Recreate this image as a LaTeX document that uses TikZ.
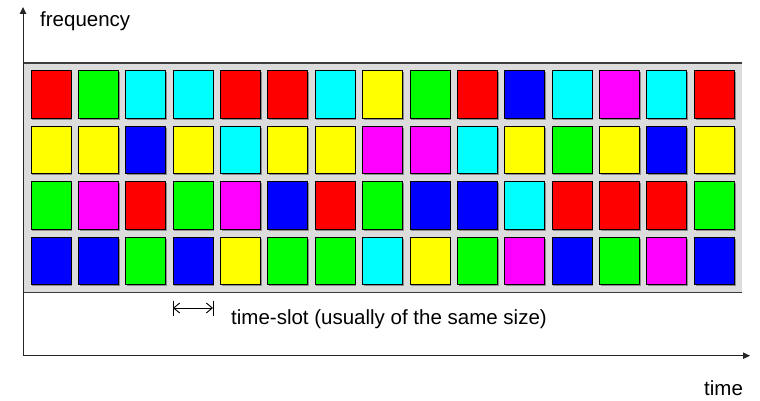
\documentclass[tikz,border=0pt]{standalone}
\usepackage{fontspec}
\setmainfont{Liberation Sans}
\usetikzlibrary{arrows.meta,shadows}
\definecolor{bandgray}{RGB}{220,220,220}
\definecolor{edgegray}{RGB}{60,60,60}
\definecolor{sR}{RGB}{255,0,0}
\definecolor{sG}{RGB}{0,255,0}
\definecolor{sB}{RGB}{0,0,255}
\definecolor{sC}{RGB}{0,255,255}
\definecolor{sM}{RGB}{255,0,255}
\definecolor{sY}{RGB}{255,255,0}
\begin{document}
\begin{tikzpicture}[x=1pt,y=-1pt,
  slot/.style={draw=black, line width=1pt, minimum width=40pt, minimum height=47.5pt, inner sep=0pt,
    general shadow={shadow xshift=1.2pt, shadow yshift=-1.2pt, fill=black!45}},
  lbl/.style={anchor=base west, inner sep=0pt, font=\fontsize{20.5}{24}\selectfont},
  axis/.style={draw=black!85, line width=1pt, -{Triangle[length=7pt,width=6.5pt]}},
  band/.style={draw=edgegray, line width=1.5pt}]
\useasboundingbox (0,0) rectangle (760,401);
% band
\coordinate (bandTL) at (23,63);
\coordinate (bandTR) at (742,63);
\coordinate (bandBL) at (23,292.5);
\coordinate (bandBR) at (742,292.5);
\fill[bandgray] (bandTL) rectangle (bandBR);
\draw[band] (bandTL) -- (bandTR);
\draw[band] (bandBL) -- (bandBR);
% slots
\foreach \row [count=\j from 0] in {
  {sR,sG,sC,sC,sR,sR,sC,sY,sG,sR,sB,sC,sM,sC,sR},
  {sY,sY,sB,sY,sC,sY,sY,sM,sM,sC,sY,sG,sY,sB,sY},
  {sG,sM,sR,sG,sM,sB,sR,sG,sB,sB,sC,sR,sR,sR,sG},
  {sB,sB,sG,sB,sY,sG,sG,sC,sY,sG,sM,sB,sG,sM,sB}}{
  \foreach \c [count=\i from 0] in \row {
    \node[slot, fill=\c] (s\j-\i) at ({51+47.38*\i},{94.75+55.45*\j}) {};
  }
}
% axes
\coordinate (O) at (23,355.7);
\coordinate (ytip) at (23,7);
\coordinate (xtip) at (750,355.7);
\draw[axis] (O) -- (ytip);
\draw[axis] (O) -- (xtip);
% time-slot marker
\coordinate (b1t) at (173,300.5);
\coordinate (b1b) at (173,316);
\coordinate (b2t) at (213,300.5);
\coordinate (b2b) at (213,316);
\coordinate (m1) at (173,308);
\coordinate (m2) at (213,308);
\draw[line width=0.9pt] (b1t) -- (b1b);
\draw[line width=0.9pt] (b2t) -- (b2b);
\draw[line width=0.9pt, {Straight Barb[length=6pt,width=10pt]}-{Straight Barb[length=6pt,width=10pt]}] (m1) -- (m2);
% labels
\node[lbl] (freq) at (40,27) {frequency};
\node[lbl] (ts) at (231,324.3) {time-slot (usually of the same size)};
\node[lbl] (time) at (704,395) {time};
\end{tikzpicture}
\end{document}
